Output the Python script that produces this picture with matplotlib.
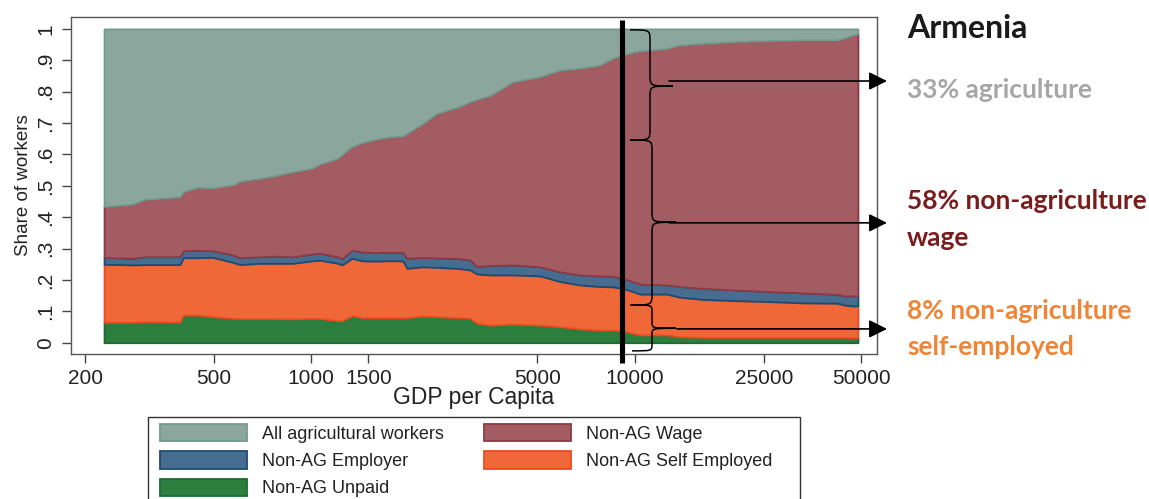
import numpy as np
import matplotlib
matplotlib.use('Agg')
import matplotlib.pyplot as plt
from matplotlib.path import Path
from matplotlib.patches import PathPatch, Rectangle
from matplotlib.transforms import blended_transform_factory

# ---------------- data ----------------
gdp = [229, 281, 306, 393, 402, 444, 497, 573, 602, 694, 772, 878, 1005, 1064,
       1209, 1245, 1336, 1435, 1573, 1714, 1920, 1976, 2214, 2446, 2820, 3094,
       3251, 3566, 4200, 5089, 5866, 6765, 7799, 8554, 9183, 9860, 10364, 12557,
       13774, 16226, 20665, 26130, 33037, 42090, 44550, 47160, 48870]

unpaid = [.065, .065, .067, .066, .088, .088, .083, .078, .077, .077, .077, .076,
          .078, .077, .070, .070, .086, .080, .080, .080, .080, .080, .085, .083,
          .080, .078, .062, .056, .059, .056, .051, .044, .040, .040, .038, .030,
          .025, .025, .019, .017, .017, .017, .017, .017, .017, .016, .016]
self_emp = [.185, .183, .182, .183, .183, .183, .189, .178, .172, .176, .176, .177,
            .183, .186, .183, .178, .183, .181, .180, .181, .181, .157, .157, .157,
            .157, .154, .157, .160, .157, .157, .144, .140, .139, .138, .135, .133,
            .130, .130, .126, .121, .117, .114, .110, .109, .103, .101, .102]
employer = [.022, .021, .025, .025, .022, .024, .021, .024, .022, .021, .023, .021,
            .022, .022, .021, .020, .026, .028, .027, .027, .027, .032, .030, .030,
            .032, .032, .024, .030, .032, .029, .031, .032, .034, .034, .032, .032,
            .032, .029, .034, .035, .034, .032, .032, .028, .029, .032, .032]
wage = [.162, .173, .183, .191, .188, .200, .201, .223, .244, .250, .256, .271,
        .273, .285, .314, .332, .330, .349, .361, .367, .371, .398, .427, .461,
        .481, .504, .533, .542, .584, .606, .643, .659, .672, .695, .712, .731,
        .743, .754, .770, .781, .792, .800, .806, .811, .823, .832, .834]
agri = [.566, .558, .543, .535, .519, .505, .506, .497, .485, .476, .468, .455,
        .444, .430, .412, .400, .375, .362, .352, .345, .341, .333, .301, .269,
        .250, .232, .224, .212, .168, .152, .131, .125, .115, .093, .083, .074,
        .070, .062, .051, .046, .040, .037, .035, .035, .028, .019, .016]

series_labels = ["Non-AG Unpaid", "Non-AG Self Employed", "Non-AG Employer",
                 "Non-AG Wage", "All agricultural workers"]
fill_colors = ["#2B7E3D", "#F16838", "#466D8F", "#A35D62", "#8BA79D"]
edge_colors = ["#1E6A32", "#F04A22", "#1C4A72", "#8E3A44", "#739A8E"]

xticks = [200, 500, 1000, 1500, 5000, 10000, 25000, 50000]
yticks = [0, .1, .2, .3, .4, .5, .6, .7, .8, .9, 1]
ytick_labels = ["0", ".1", ".2", ".3", ".4", ".5", ".6", ".7", ".8", ".9", "1"]

marker_gdp = 9140

# ---------------- figure ----------------
plt.rcParams['font.family'] = ['Liberation Sans', 'DejaVu Sans']
W, H = 1149, 499
fig = plt.figure(figsize=(W / 100, H / 100), dpi=100)

def fx(px):
    return px / W

def fy(py):
    return 1 - py / H

ax = fig.add_axes([fx(71), fy(354), fx(877) - fx(71), fy(17) - fy(354)])

polys = ax.stackplot(gdp, unpaid, self_emp, employer, wage, agri,
                     colors=fill_colors, labels=series_labels, linewidth=1.3)
for p, ec in zip(polys, edge_colors):
    p.set_edgecolor(ec)

ax.set_xscale('log')
ax.set_xlim(181, 55970)
ax.set_ylim(-0.036, 1.038)
ax.set_xticks(xticks)
ax.set_xticklabels([str(t) for t in xticks])
ax.xaxis.set_minor_locator(matplotlib.ticker.NullLocator())
ax.set_yticks(yticks)
ax.set_yticklabels(ytick_labels, rotation=90, va='center')
ax.tick_params(axis='both', length=6.5, width=1, color='#444444',
               labelsize=15, labelcolor='#222222')
ax.tick_params(axis='x', pad=4)
ax.tick_params(axis='y', pad=5)
for s in ax.spines.values():
    s.set_color('#555555')
    s.set_linewidth(1.0)

ax.set_xlabel("GDP per Capita", fontsize=16.5, color='#222222', labelpad=-1)
ax.set_ylabel("Share of workers", fontsize=13.5, color='#222222', labelpad=3)

# thick vertical marker
ax.plot([marker_gdp, marker_gdp], [1.029, -0.065], color='black', lw=3.7,
        solid_capstyle='butt', clip_on=False, zorder=5)

# braces and arrows
trans = blended_transform_factory(ax.transAxes, ax.transData)

def ax_x(px):
    return (px - 71) / 806.0

def brace(xl, xs, xt, yt, ym, yb, r):
    verts = [(xl, yt), (xs, yt), (xs, yt), (xs, yt - r),
             (xs, ym + r),
             (xs, ym), (xs, ym), (xt, ym),
             (xs, ym), (xs, ym), (xs, ym - r),
             (xs, yb + r),
             (xs, yb), (xs, yb), (xl, yb)]
    codes = [Path.MOVETO, Path.CURVE4, Path.CURVE4, Path.CURVE4,
             Path.LINETO,
             Path.CURVE4, Path.CURVE4, Path.CURVE4,
             Path.CURVE4, Path.CURVE4, Path.CURVE4,
             Path.LINETO,
             Path.CURVE4, Path.CURVE4, Path.CURVE4]
    patch = PathPatch(Path(verts, codes), transform=trans, fill=False,
                      edgecolor='black', lw=1.1, clip_on=False, zorder=6)
    ax.add_patch(patch)

brace(ax_x(630), ax_x(650), ax_x(673), 0.997, 0.818, 0.646, 0.035)
brace(ax_x(630), ax_x(652), ax_x(676), 0.646, 0.384, 0.120, 0.035)
brace(ax_x(632), ax_x(652), ax_x(676), 0.120, 0.046, -0.026, 0.02)

for y0, xstart in [(0.834, 669), (0.382, 669), (0.044, 677)]:
    ax.annotate('', xy=(ax_x(887), y0), xytext=(ax_x(xstart), y0),
                xycoords=trans, textcoords=trans, annotation_clip=False,
                arrowprops=dict(arrowstyle='-|>,head_length=1.1,head_width=0.55',
                                color='black', lw=1.2, shrinkA=0, shrinkB=0,
                                mutation_scale=10), zorder=7)

# right-hand annotations
tfont = dict(family=['Lato', 'DejaVu Sans'], weight='bold', ha='left', va='center')
fig.text(fx(907), fy(28), "Armenia", fontsize=23, color='#1A1A1A', **tfont)
fig.text(fx(907), fy(90), "33% agriculture", fontsize=19, color='#A6A6A6', **tfont)
fig.text(fx(907), fy(201), "58% non-agriculture", fontsize=19, color='#7B1C1C', **tfont)
fig.text(fx(907), fy(238), "wage", fontsize=19, color='#7B1C1C', **tfont)
fig.text(fx(907), fy(311), "8% non-agriculture", fontsize=19, color='#F08434', **tfont)
fig.text(fx(907), fy(347), "self-employed", fontsize=19, color='#F08434', **tfont)

# legend
order = [4, 2, 0, 3, 1]
leg = fig.legend([polys[i] for i in order], [series_labels[i] for i in order],
                 loc='upper left', bbox_to_anchor=(fx(160), fy(424)),
                 ncol=2, frameon=False, fontsize=13, borderpad=0,
                 borderaxespad=0, handlelength=4.8, handleheight=1.1,
                 handletextpad=0.83, labelspacing=0.47, columnspacing=2.25)
for t in leg.get_texts():
    t.set_color('#222222')
fig.patches.append(Rectangle((fx(148), -0.05), fx(800) - fx(148), fy(417) + 0.05,
                             transform=fig.transFigure, fill=False,
                             edgecolor='#333333', lw=1.0))

fig.savefig('out.png', dpi=100)
